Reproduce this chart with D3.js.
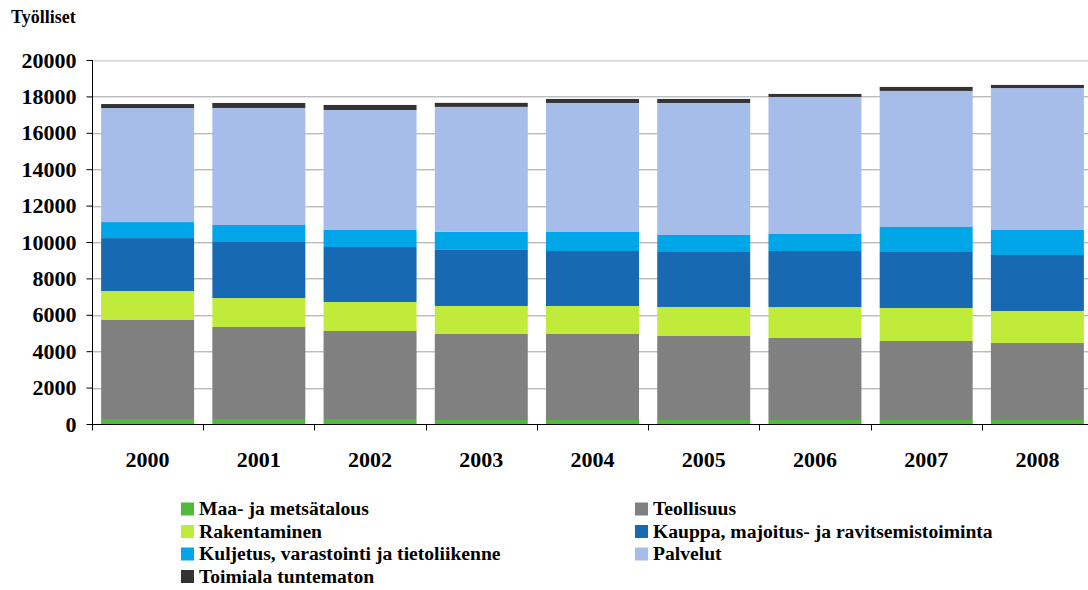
<!DOCTYPE html>
<html>
<head>
<meta charset="utf-8">
<script src="https://cdnjs.cloudflare.com/ajax/libs/d3/7.8.5/d3.min.js"></script>
<style>
    body { margin: 0; background: #fff; }
    svg text { font-family: 'Liberation Serif', 'Times New Roman', Tinos, serif; font-weight: bold; fill: #000; }
</style>
</head>
<body>
<div id="chart"></div>
<script>

// data
var years = [ '2000', '2001', '2002', '2003', '2004', '2005', '2006', '2007', '2008' ];

var maa        = [ 275, 275, 275, 220, 220, 220, 220, 220, 220 ];
var teollisuus = [ 5440, 5055, 4835, 4725, 4725, 4615, 4505, 4340, 4230 ];
var rakentam   = [ 1590, 1590, 1595, 1540, 1540, 1595, 1700, 1815, 1760 ];
var kauppa     = [ 2910, 3080, 3020, 3080, 3020, 3020, 3080, 3075, 3075 ];
var kuljetus   = [ 880, 935, 935, 990, 1045, 935, 935, 1375, 1375 ];
var palvelut   = [ 6265, 6430, 6595, 6870, 7090, 7255, 7530, 7475, 7800 ];
var tuntematon = [ 220, 275, 275, 220, 220, 220, 165, 220, 170 ];

var seriesNames = [ 'Maa- ja metsätalous', 'Teollisuus', 'Rakentaminen',
    'Kauppa, majoitus- ja ravitsemistoiminta', 'Kuljetus, varastointi ja tietoliikenne',
    'Palvelut', 'Toimiala tuntematon' ];
var seriesValues = [ maa, teollisuus, rakentam, kauppa, kuljetus, palvelut, tuntematon ];
var colors = [ '#4fba3c', '#808080', '#c0eb3a', '#1769b1', '#00a6e8', '#a6bdea', '#333333' ];
var yTicks = [ 0, 2000, 4000, 6000, 8000, 10000, 12000, 14000, 16000, 18000, 20000 ];

var width = 1088,
    height = 590;

var svg = d3.select('#chart').append('svg')
    .attr('width', width)
    .attr('height', height);

var x = d3.scaleBand()
    .domain( years )
    .range([ 92, 1093 ])
    .paddingInner( 0.164 )
    .paddingOuter( 0.082 );

var y = d3.scaleLinear()
    .domain([ 0, 20000 ])
    .range([ 424, 60 ]);

// gridlines with a soft shadow line under them
svg.append('g').selectAll('line.shadow')
    .data( yTicks.slice(1) )
    .enter().append('line')
    .attr('x1', 93).attr('x2', 1088)
    .attr('y1', function (d) { return Math.round( y(d) ) + 1.5; })
    .attr('y2', function (d) { return Math.round( y(d) ) + 1.5; })
    .style('stroke', '#e2e2e2');

svg.append('g').selectAll('line.grid')
    .data( yTicks.slice(1) )
    .enter().append('line')
    .attr('x1', 93).attr('x2', 1088)
    .attr('y1', function (d) { return Math.round( y(d) ) + 0.5; })
    .attr('y2', function (d) { return Math.round( y(d) ) + 0.5; })
    .style('stroke', function (d) { return d === 20000 ? '#d8d8d8' : '#bdbdbd'; });

// stacked bars
var table = years.map( function ( yr, i ) {
    var row = { year: yr };
    seriesNames.forEach( function ( n, k ) { row[ n ] = seriesValues[ k ][ i ]; });
    return row;
});

var stack = d3.stack().keys( seriesNames );

var layers = svg.append('g').selectAll('g')
    .data( stack( table ) )
    .enter().append('g')
    .style('fill', function ( d, i ) { return colors[ i ]; });

layers.selectAll('rect')
    .data( function (d) { return d; })
    .enter().append('rect')
    .attr('x', function (d) { return x( d.data.year ); })
    .attr('width', x.bandwidth())
    .attr('y', function (d) { return y( d[1] ); })
    .attr('height', function (d) { return y( d[0] ) - y( d[1] ); });

// y axis
var yAxis = svg.append('g')
    .attr('transform', 'translate(92.5,0)')
    .call( d3.axisLeft( y ).tickValues( yTicks ).tickFormat( d3.format('d') ).tickSize( 6 ).tickPadding( 10 ) );

yAxis.attr('font-family', null).attr('font-size', null);
yAxis.select('.domain').attr('d', 'M0,' + y(20000) + 'V' + y(0) ).style('stroke', '#000');
yAxis.selectAll('.tick line').style('stroke', '#000');
yAxis.selectAll('text')
    .style('font-size', '22px');

// x axis
var xAxis = svg.append('g')
    .attr('transform', 'translate(0,424.5)');

xAxis.append('line')
    .attr('x1', 92).attr('x2', 1088)
    .style('stroke', '#000');

xAxis.selectAll('line.tick')
    .data( years )
    .enter().append('line')
    .attr('x1', function (d) { return Math.round( x(d) - x.step() * x.paddingInner() / 2 ) + 0.5; })
    .attr('x2', function (d) { return Math.round( x(d) - x.step() * x.paddingInner() / 2 ) + 0.5; })
    .attr('y1', 0).attr('y2', 6)
    .style('stroke', '#000');

xAxis.selectAll('text')
    .data( years )
    .enter().append('text')
    .attr('x', function (d) { return x(d) + x.bandwidth() / 2; })
    .attr('y', 42)
    .attr('text-anchor', 'middle')
    .style('font-size', '22px')
    .text( function (d) { return d; });

// axis title
svg.append('text')
    .attr('x', 11)
    .attr('y', 23)
    .style('font-size', '18px')
    .text('Työlliset');

// legend, two columns filled row by row
var legend = svg.append('g').selectAll('g')
    .data( seriesNames )
    .enter().append('g')
    .attr('transform', function ( d, i ) {
        var col = i % 2, row = Math.floor( i / 2 );
        return 'translate(' + ( col ? 635 : 181 ) + ',' + ( 509 + row * 22.5 ) + ')';
    });

legend.append('rect')
    .attr('x', 0).attr('y', -6.5)
    .attr('width', 13).attr('height', 13)
    .style('fill', function ( d, i ) { return colors[ i ]; });

legend.append('text')
    .attr('x', 18)
    .attr('dy', '0.33em')
    .style('font-size', '19.6px')
    .text( function (d) { return d; });

</script>
</body>
</html>
